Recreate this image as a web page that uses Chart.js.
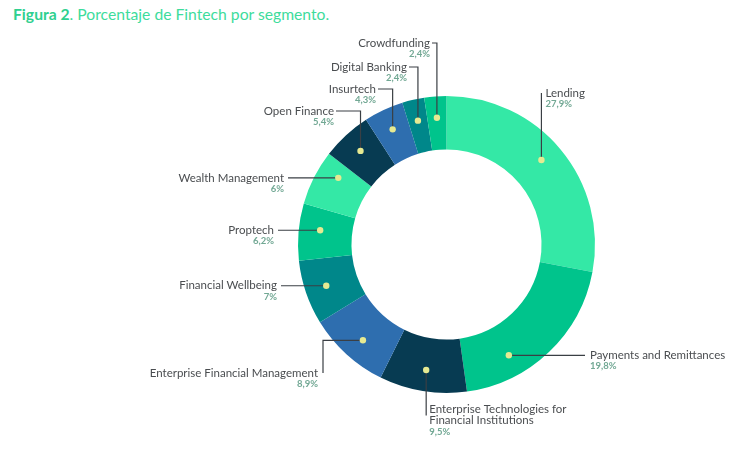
<!DOCTYPE html>
<html>
<head>
<meta charset="utf-8">
<script src="https://cdn.jsdelivr.net/npm/chart.js@4"></script>
<style>
  html, body { margin: 0; padding: 0; background: #fff; }
  #wrap { position: relative; width: 733px; height: 449px; }
  #titulo { position: absolute; left: 13px; top: 5px; font-family: Lato, sans-serif; font-size: 15.7px; color: #3ddc9c; }
  #titulo b { color: #2fd08f; }
  canvas { position: absolute; left: 0; top: 0; }
</style>
</head>
<body>
<div id="wrap">
  <div id="titulo"><b>Figura 2</b>. Porcentaje de Fintech por segmento.</div>
  <canvas id="segmentosChart" width="733" height="449"></canvas>
</div>
<script>
const segmentos = [
    'Lending',
    'Payments and Remittances',
    'Enterprise Technologies for|Financial Institutions',
    'Enterprise Financial Management',
    'Financial Wellbeing',
    'Proptech',
    'Wealth Management',
    'Open Finance',
    'Insurtech',
    'Digital Banking',
    'Crowdfunding'
];
const porcentajes = [27.9, 19.8, 9.5, 8.9, 7, 6.2, 6, 5.4, 4.3, 2.4, 2.4];
const colores = ['#34e8a6', '#00c48c', '#073b52', '#2e6eaf', '#00878a', '#00c48c', '#34e8a6', '#073b52', '#2e6eaf', '#00878a', '#00c48c'];

// donde va cada etiqueta (offset desde el centro del donut), pos = fraccion del arco para el punto
const rutas = [
    {tipo: 'arriba', ly: -151.5, pos: 0.48},
    {tipo: 'derecha', lx: 138.5, pos: 0.7},
    {tipo: 'abajo', ly: 168, pos: 0.5},
    {tipo: 'izqAbajo', lx: -123.5, ly: 128.5, pos: 0.46},
    {tipo: 'izquierda', lx: -165.5, pos: 0.5},
    {tipo: 'izquierda', lx: -168.5, pos: 0.57},
    {tipo: 'izquierda', lx: -158.5, pos: 0.72},
    {tipo: 'arribaIzq', lx: -110.5, ly: -133.5, pos: 0.5},
    {tipo: 'arribaIzq', lx: -68.5, ly: -155.5, pos: 0.5},
    {tipo: 'arribaIzq', lx: -37.5, ly: -177.5, pos: 0.5},
    {tipo: 'arribaIzq', lx: -14.5, ly: -201.5, pos: 0.5}
];

const FUENTE = '11.5px Lato, sans-serif';
const FUENTE_PCT = 'bold 9.5px Lato, sans-serif';

function formatoPct(v) {
    return String(v).replace('.', ',') + '%';
}

const etiquetasPlugin = {
    id: 'etiquetas',
    afterDatasetsDraw(chart) {
        const ctx = chart.ctx;
        const arcos = chart.getDatasetMeta(0).data;
        ctx.save();
        arcos.forEach((arco, i) => {
            const p = arco.getProps(['x', 'y', 'startAngle', 'endAngle', 'innerRadius', 'outerRadius'], true);
            const cx = p.x, cy = p.y;
            const ruta = rutas[i];
            const ang = p.startAngle + (p.endAngle - p.startAngle) * ruta.pos;
            const r = p.innerRadius + 0.6 * (p.outerRadius - p.innerRadius);
            const dx = cx + Math.cos(ang) * r;
            const dy = cy + Math.sin(ang) * r;
            const lineas = segmentos[i].split('|');
            const pct = formatoPct(porcentajes[i]);

            ctx.strokeStyle = '#3a3f44';
            ctx.lineWidth = 1.2;
            ctx.beginPath();
            let tx, ty, align;
            if (ruta.tipo === 'arriba') {
                ty = cy + ruta.ly;
                ctx.moveTo(dx, dy); ctx.lineTo(dx, ty);
                tx = dx + 4; align = 'left';
            } else if (ruta.tipo === 'derecha') {
                ty = dy;
                ctx.moveTo(dx, dy); ctx.lineTo(cx + ruta.lx, dy);
                tx = cx + ruta.lx + 5; align = 'left';
            } else if (ruta.tipo === 'abajo') {
                ty = cy + ruta.ly;
                ctx.moveTo(dx, dy); ctx.lineTo(dx, ty + 3);
                tx = dx + 3; align = 'left';
                ty = ty - 3;
            } else if (ruta.tipo === 'izqAbajo') {
                ty = cy + ruta.ly;
                ctx.moveTo(dx, dy); ctx.lineTo(cx + ruta.lx, dy); ctx.lineTo(cx + ruta.lx, ty);
                tx = cx + ruta.lx - 5; align = 'right';
            } else if (ruta.tipo === 'izquierda') {
                ty = dy;
                ctx.moveTo(dx, dy); ctx.lineTo(cx + ruta.lx, dy);
                tx = cx + ruta.lx - 4; align = 'right';
            } else {
                ty = cy + ruta.ly;
                ctx.moveTo(dx, dy); ctx.lineTo(dx, ty); ctx.lineTo(cx + ruta.lx, ty);
                tx = cx + ruta.lx - 2; align = 'right';
            }
            ctx.stroke();

            // punto amarillo
            ctx.fillStyle = '#e6ea92';
            ctx.beginPath();
            ctx.arc(dx, dy, 3.2, 0, Math.PI * 2);
            ctx.fill();

            ctx.textAlign = align;
            ctx.textBaseline = 'middle';
            ctx.fillStyle = '#4a4d50';
            ctx.font = FUENTE;
            lineas.forEach((l, k) => ctx.fillText(l, tx, ty + k * 11));
            ctx.fillStyle = '#72a894';
            ctx.font = FUENTE_PCT;
            ctx.fillText(pct, tx, ty + lineas.length * 11);
        });
        ctx.restore();
    }
};

const ctx = document.getElementById('segmentosChart').getContext('2d');
const grafico = new Chart(ctx, {
    type: 'doughnut',
    data: {
        labels: segmentos.map(s => s.replace('|', ' ')),
        datasets: [{
            data: porcentajes,
            backgroundColor: colores,
            borderWidth: 0
        }]
    },
    options: {
        responsive: false,
        animation: false,
        cutout: '64%',
        layout: {
            padding: {top: 96, bottom: 56, left: 200, right: 40}
        },
        plugins: {
            legend: {display: false},
            tooltip: {enabled: false}
        }
    },
    plugins: [etiquetasPlugin]
});
</script>
</body>
</html>
